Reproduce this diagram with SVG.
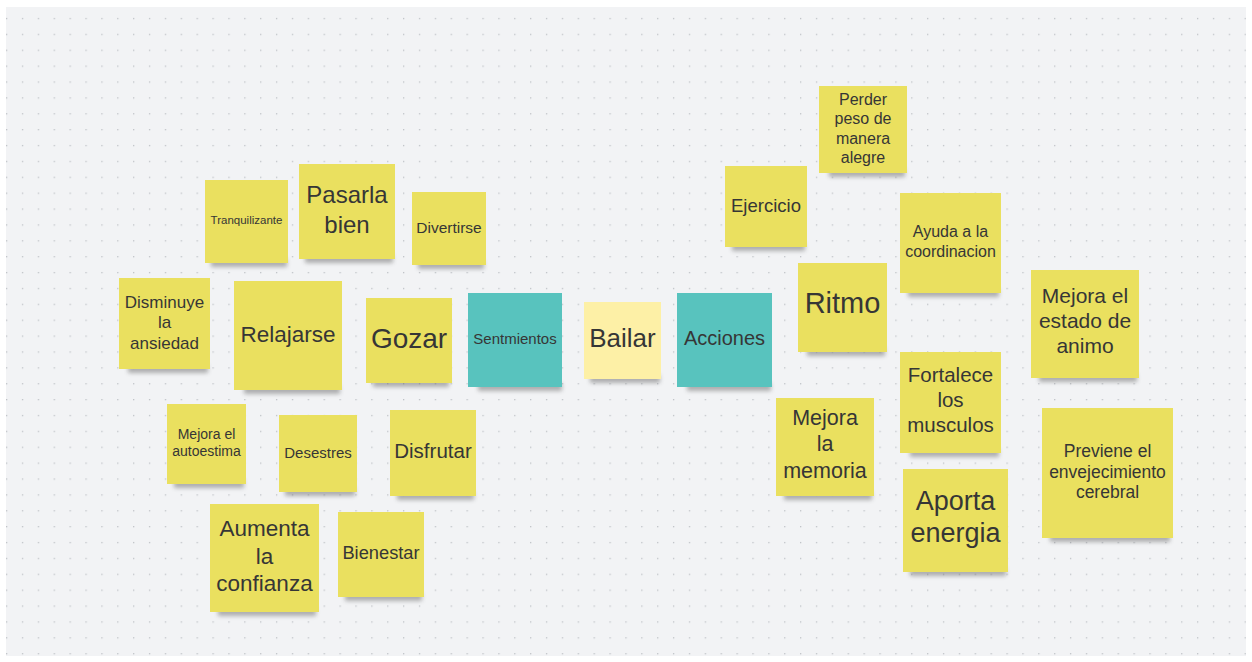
<svg xmlns="http://www.w3.org/2000/svg" width="1252" height="662" viewBox="0 0 1252 662">
<style>
.note{fill:#eae05f}
.teal{fill:#58c3be}
.bailar{fill:#fdf0a6}
.sh{fill:#5a5a5a;opacity:0.45;filter:url(#blur);transform:translateY(3px)}
text{font-family:"Liberation Sans",Arial,sans-serif;fill:#363636;text-anchor:middle}
</style>
<defs>
<pattern id="dots" x="6" y="2" width="15.88" height="15.88" patternUnits="userSpaceOnUse">
<rect x="0" y="0" width="1.3" height="1.3" fill="#bfc2c6"/>
</pattern>
<filter id="blur" x="-20%" y="-100%" width="140%" height="300%"><feGaussianBlur stdDeviation="2.2"/></filter>
</defs>
<rect x="0" y="0" width="1252" height="662" fill="#ffffff"/>
<rect x="6" y="7" width="1240" height="649" fill="#f2f3f5"/>
<rect x="6" y="7" width="1240" height="649" fill="url(#dots)"/>
<g id="connectors"></g>

<g id="tranquilizante"><rect class="sh" x="211" y="256" width="76" height="8"/><rect class="note" x="205" y="180" width="83" height="83"/><text x="246.5" y="224" font-size="11.5">Tranquilizante</text></g>
<g id="pasarla"><rect class="sh" x="305" y="252" width="88" height="8"/><rect class="note" x="299" y="164" width="96" height="95"/><text x="347" y="203" font-size="24">Pasarla</text><text x="347" y="233" font-size="24">bien</text></g>
<g id="divertirse"><rect class="sh" x="418" y="258" width="66" height="8"/><rect class="note" x="412" y="192" width="74" height="73"/><text x="449" y="232.5" font-size="15.5">Divertirse</text></g>
<g id="disminuye"><rect class="sh" x="128" y="362" width="80" height="8"/><rect class="note" x="119" y="278" width="91" height="91"/><text x="164.5" y="308" font-size="17">Disminuye</text><text x="164.5" y="328" font-size="17">la</text><text x="164.5" y="348.5" font-size="17">ansiedad</text></g>
<g id="relajarse"><rect class="sh" x="244" y="383" width="96" height="8"/><rect class="note" x="234" y="281" width="108" height="109"/><text x="288" y="341.5" font-size="22.5">Relajarse</text></g>
<g id="gozar"><rect class="sh" x="373" y="376" width="76" height="8"/><rect class="note" x="366" y="298" width="86" height="85"/><text x="409" y="348" font-size="28">Gozar</text></g>
<g id="sentimientos"><rect class="sh" x="478" y="380" width="84" height="8"/><rect class="teal" x="468" y="293" width="94" height="94"/><text x="515" y="344" font-size="15">Sentmientos</text></g>
<g id="bailar"><rect class="sh" x="590" y="372" width="70" height="8"/><rect class="bailar" x="584" y="302" width="77" height="77"/><text x="622.5" y="346.5" font-size="26">Bailar</text></g>
<g id="acciones"><rect class="sh" x="687" y="380" width="84" height="8"/><rect class="teal" x="677" y="293" width="95" height="94"/><text x="724.5" y="345" font-size="20">Acciones</text></g>
<g id="autoestima"><rect class="sh" x="174" y="477" width="70" height="8"/><rect class="note" x="167" y="404" width="79" height="80"/><text x="206.5" y="439" font-size="14">Mejora el</text><text x="206.5" y="456" font-size="14">autoestima</text></g>
<g id="desestres"><rect class="sh" x="285" y="485" width="70" height="8"/><rect class="note" x="279" y="415" width="78" height="77"/><text x="318" y="457.5" font-size="15">Desestres</text></g>
<g id="disfrutar"><rect class="sh" x="397" y="489" width="77" height="8"/><rect class="note" x="390" y="410" width="86" height="86"/><text x="433" y="458" font-size="20.5">Disfrutar</text></g>
<g id="confianza"><rect class="sh" x="218" y="605" width="98" height="8"/><rect class="note" x="210" y="504" width="109" height="108"/><text x="264.5" y="536" font-size="22.5">Aumenta</text><text x="264.5" y="563.5" font-size="22.5">la</text><text x="264.5" y="591" font-size="22.5">confianza</text></g>
<g id="bienestar"><rect class="sh" x="345" y="590" width="77" height="8"/><rect class="note" x="338" y="512" width="86" height="85"/><text x="381" y="559" font-size="18.3">Bienestar</text></g>
<g id="perder"><rect class="sh" x="829" y="166" width="76" height="8"/><rect class="note" x="819" y="86" width="88" height="87"/><text x="863" y="105" font-size="16">Perder</text><text x="863" y="124.3" font-size="16">peso de</text><text x="863" y="143.6" font-size="16">manera</text><text x="863" y="162.8" font-size="16">alegre</text></g>
<g id="ejercicio"><rect class="sh" x="732" y="240" width="73" height="8"/><rect class="note" x="725" y="166" width="82" height="81"/><text x="766" y="211.5" font-size="18.5">Ejercicio</text></g>
<g id="coordinacion"><rect class="sh" x="908" y="286" width="91" height="8"/><rect class="note" x="900" y="193" width="101" height="100"/><text x="950.5" y="237.3" font-size="16">Ayuda a la</text><text x="950.5" y="256.7" font-size="16">coordinacion</text></g>
<g id="ritmo"><rect class="sh" x="807" y="345" width="78" height="8"/><rect class="note" x="798" y="263" width="89" height="89"/><text x="842.5" y="313.3" font-size="29">Ritmo</text></g>
<g id="estado"><rect class="sh" x="1039" y="371" width="98" height="8"/><rect class="note" x="1031" y="270" width="108" height="108"/><text x="1085" y="303.3" font-size="21">Mejora el</text><text x="1085" y="328.3" font-size="21">estado de</text><text x="1085" y="353.3" font-size="21">animo</text></g>
<g id="musculos"><rect class="sh" x="910" y="446" width="89" height="8"/><rect class="note" x="900" y="352" width="101" height="101"/><text x="950.5" y="382.3" font-size="20.5">Fortalece</text><text x="950.5" y="407.3" font-size="20.5">los</text><text x="950.5" y="432.3" font-size="20.5">musculos</text></g>
<g id="memoria"><rect class="sh" x="784" y="489" width="88" height="8"/><rect class="note" x="776" y="398" width="98" height="98"/><text x="825" y="425" font-size="21.5">Mejora</text><text x="825" y="451" font-size="21.5">la</text><text x="825" y="477.7" font-size="21.5">memoria</text></g>
<g id="energia"><rect class="sh" x="910" y="565" width="96" height="8"/><rect class="note" x="903" y="469" width="105" height="103"/><text x="955.5" y="510" font-size="27">Aporta</text><text x="955.5" y="541.7" font-size="27">energia</text></g>
<g id="previene"><rect class="sh" x="1050" y="531" width="120" height="8"/><rect class="note" x="1042" y="408" width="131" height="130"/><text x="1107.5" y="456.7" font-size="17.5">Previene el</text><text x="1107.5" y="477.7" font-size="17.5">envejecimiento</text><text x="1107.5" y="497.7" font-size="17.5">cerebral</text></g>
</svg>
